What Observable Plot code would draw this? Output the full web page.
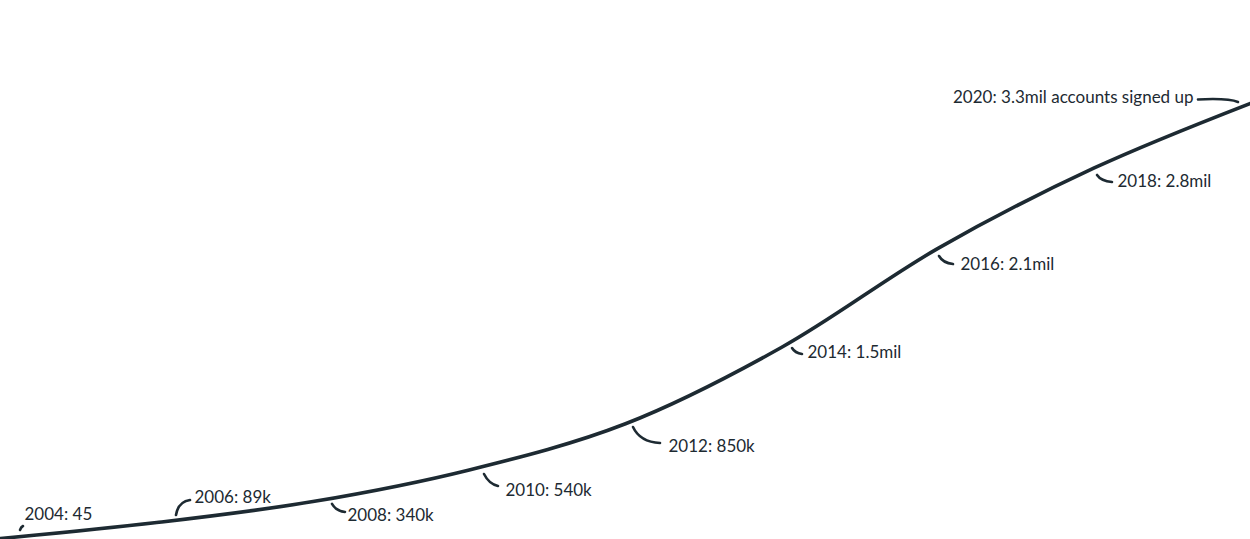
<!DOCTYPE html>
<html>
<head>
<meta charset="utf-8">
<script src="https://cdn.jsdelivr.net/npm/d3@7"></script>
<script src="https://cdn.jsdelivr.net/npm/@observablehq/plot@0.6"></script>
<style>
  html, body { margin: 0; padding: 0; background: #ffffff; overflow: hidden; }
  #chart svg { display: block; }
</style>
</head>
<body>
<div id="chart"></div>
<script>
// ---- data (line values; labels as printed) ----
const years = [2004, 2006, 2008, 2010, 2012, 2014, 2016, 2018, 2020];
const accounts = [45, 121000, 280000, 520000, 870000, 1450000, 2200000, 2810000, 3300000];
const labels = [
  "2004: 45", "2006: 89k", "2008: 340k", "2010: 540k", "2012: 850k",
  "2014: 1.5mil", "2016: 2.1mil", "2018: 2.8mil", "2020: 3.3mil accounts signed up"
];

// ---- layout (pixel offsets of labels/connectors from each data point) ----
const labelLayout = [
  {dx: 24,    dy: -24,  anchor: "start", conn: [[20, -8], [21, -11], [23, -12]]},
  {dx: 37.75, dy: -25,  anchor: "start", conn: [[19.75, -7], [21.75, -20], [33.75, -22]]},
  {dx: 34.5,  dy: 13.9, anchor: "start", conn: [[19.5, 2.9], [23.5, 9.9], [32.5, 10.9]]},
  {dx: 36.25, dy: 21.1, anchor: "start", conn: [[15.25, 4.6], [20.25, 14.6], [29.25, 16.6]]},
  {dx: 43,    dy: 23.2, anchor: "start", conn: [[8, 3.7], [15, 18.7], [35, 19.7]]},
  {dx: 25.75, dy: 5.7,  anchor: "start", conn: [[10.75, 1.2], [13.75, 6.2], [20.75, 7.2]]},
  {dx: 22.5,  dy: 15.8, anchor: "start", conn: [[1.5, 8.1], [5.5, 15.1], [15.5, 16.1]]},
  {dx: 23.25, dy: 13.5, anchor: "start", conn: [[3.25, 7.5], [7.25, 13.5], [18.25, 14.5]]},
  {dx: -57,   dy: -5.9, anchor: "end",   conn: [[-52, -3.4], [-22, -4.9], [-12, -0.9]]}
];

const ink = "#1d2a32";
const font = "Lato, 'Open Sans', sans-serif";

const data = years.map((year, i) => ({year, value: accounts[i], label: labels[i], i}));

// connectors drawn through the plot's scales
function connectorMark(index, scales) {
  const g = d3.create("svg:g")
    .attr("fill", "none")
    .attr("stroke", ink)
    .attr("stroke-width", 2.6)
    .attr("stroke-linecap", "round");
  for (const d of data) {
    const px = scales.x(d.year), py = scales.y(d.value);
    const [s, c, e] = labelLayout[d.i].conn;
    g.append("path").attr("d",
      `M${px + s[0]},${py + s[1]}Q${px + c[0]},${py + c[1]} ${px + e[0]},${py + e[1]}`);
  }
  return g.node();
}

const textMarks = data.map(d => Plot.text([d], {
  x: "year", y: "value", text: "label",
  dx: labelLayout[d.i].dx, dy: labelLayout[d.i].dy,
  textAnchor: labelLayout[d.i].anchor, lineAnchor: "middle",
  fill: ink, fontSize: 17, fontFamily: font
}));

const chart = Plot.plot({
  width: 1250,
  height: 539,
  marginLeft: 0, marginRight: 0, marginTop: 0, marginBottom: 1,
  style: {background: "#ffffff", overflow: "visible"},
  x: {domain: [2004, 2020], axis: null},
  y: {domain: [0, 4080000], axis: null},
  marks: [
    Plot.line(data, {x: "year", y: "value", curve: "catmull-rom", stroke: ink, strokeWidth: 3.6, strokeLinecap: "round"}),
    connectorMark,
    ...textMarks
  ]
});
document.getElementById("chart").append(chart);
</script>
</body>
</html>
